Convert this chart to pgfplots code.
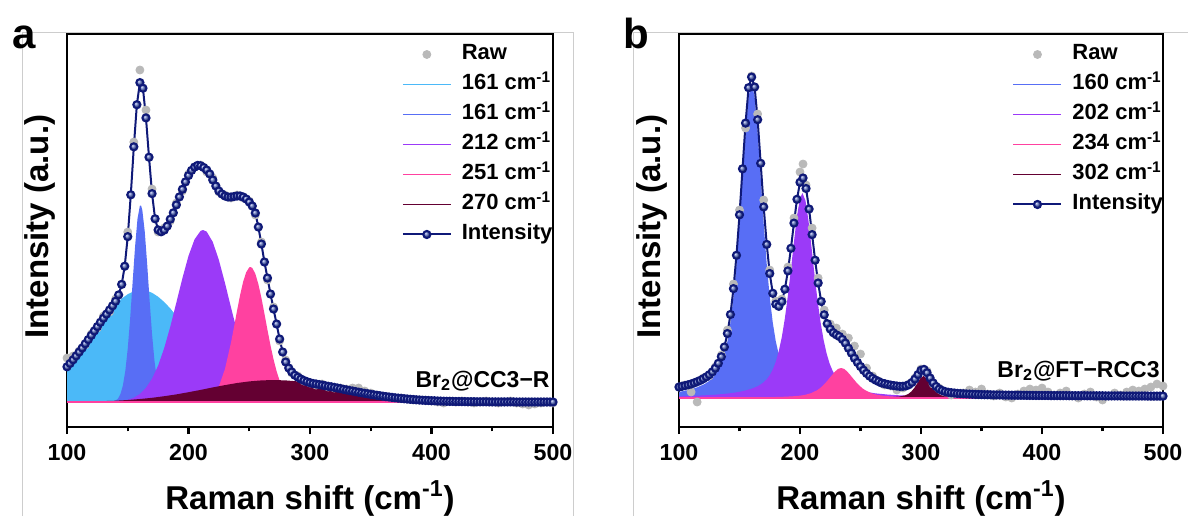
\documentclass[border=0pt]{standalone}
\usepackage{pgfplots}
\pgfplotsset{compat=1.18}
\usepackage{fontspec}
\setmainfont{Liberation Sans}
\definecolor{lb}{RGB}{75,185,248}
\definecolor{rb}{RGB}{88,110,245}
\definecolor{pu}{RGB}{155,58,248}
\definecolor{pk}{RGB}{255,65,160}
\definecolor{mr}{RGB}{100,0,50}
\definecolor{navy}{RGB}{15,25,120}
\definecolor{mk}{RGB}{85,105,190}
\definecolor{rawg}{RGB}{185,185,185}
\definecolor{framec}{RGB}{205,205,205}
\pgfplotsset{
  panel/.style={
    scale only axis, height=196.5pt,
    xmin=100, xmax=500,
    xtick={100,200,300,400,500}, minor xtick={150,250,350,450},
    ytick=\empty, xtick pos=left, tick align=outside,
    major tick length=3.5pt, minor tick length=2.2pt,
    every tick/.style={black, line width=1.1pt},
    axis line style={line width=1.2pt},
    tick label style={font=\fontsize{11.6}{13}\selectfont\bfseries},
    /pgf/number format/assume math mode=true,
    xticklabel style={anchor=base, yshift=-13pt},
    xlabel={Raman shift (cm\textsuperscript{-1})},
    ylabel={Intensity (a.u.)},
    label style={font=\fontsize{16.5}{18}\selectfont\bfseries},
    xlabel style={at={(axis description cs:0.5,0)}, anchor=base, yshift=-41pt},
    ylabel style={at={(axis description cs:-0.0556,0.51)}, anchor=center},
    legend cell align=left,
    legend image code/.code={\draw[mark repeat=2,mark phase=2,##1] plot coordinates {(0pt,0pt)(12pt,0pt)(24pt,0pt)};},
    legend style={draw=none, fill=none, at={(0.689,0.9746)}, anchor=north west,
      inner sep=0pt, outer sep=0pt, row sep=4.5pt,
      font=\fontsize{11}{12}\selectfont\bfseries,
      nodes={inner sep=0pt, text height=8pt, text depth=2.5pt},
      /tikz/every odd column/.style={column sep=5pt}},
    env/.style={navy, line width=1pt, mark=ball, mark size=1.8pt, mark options={ball color=mk}},
  }
}
\begin{document}
\begin{tikzpicture}
\useasboundingbox (0,0) rectangle (594pt,258pt);
\draw[framec, line width=0.5pt] (11pt,0) -- (11pt,242pt) -- (286.5pt,242pt) -- (286.5pt,0);
\draw[framec, line width=0.5pt] (316.5pt,0) -- (316.5pt,242pt) -- (594pt,242pt);
\node[anchor=base west, font=\fontsize{21}{24}\selectfont\bfseries, inner sep=0pt] at (6pt,234pt) {a};
\node[anchor=base west, font=\fontsize{21}{24}\selectfont\bfseries, inner sep=0pt] at (311.5pt,234pt) {b};

% ---------------- panel a ----------------
\begin{axis}[panel, at={(33.5pt,44.5pt)}, anchor=south west, width=243pt, ymin=-25, ymax=368]
\addlegendimage{only marks, mark=*, mark size=2pt, rawg}
\addlegendentry{Raw}
\addlegendimage{lb, line width=0.6pt}
\addlegendentry{161 cm\textsuperscript{-1}}
\addlegendimage{rb, line width=0.6pt}
\addlegendentry{161 cm\textsuperscript{-1}}
\addlegendimage{pu, line width=0.6pt}
\addlegendentry{212 cm\textsuperscript{-1}}
\addlegendimage{pk, line width=0.6pt}
\addlegendentry{251 cm\textsuperscript{-1}}
\addlegendimage{mr, line width=0.6pt}
\addlegendentry{270 cm\textsuperscript{-1}}
\addlegendimage{env}
\addlegendentry{Intensity}

\addplot[fill=lb, draw=none, forget plot] coordinates {(100,35.0)(105,42.0)(110,49.7)(115,57.8)(120,66.2)(125,74.7)(130,82.9)(135,90.7)(140,97.6)(145,103.4)(150,107.8)(155,110.7)(160,112.0)(165,111.4)(170,109.2)(175,105.3)(180,100.0)(185,93.6)(190,86.1)(195,78.1)(200,69.6)(205,61.2)(210,52.9)(215,45.0)(220,37.7)(225,31.1)(230,25.3)(235,20.2)(240,15.9)(245,12.4)(250,9.4)(255,7.1)(260,5.2)(265,3.8)(270,2.7)(275,1.9)(280,1.3)(290,0.6)(300,0.3)(320,0)} \closedcycle;
\addplot[fill=rb, draw=none, forget plot] coordinates {(136,0)(138,0.5)(140,1.4)(142,3.4)(144,7.9)(146,16.4)(148,31.0)(150,53.4)(152,83.8)(154,119.5)(156,155.0)(158,183.0)(160,196.4)(161,196.4)(162,191.8)(164,170.4)(166,137.7)(168,101.3)(170,67.7)(172,41.2)(174,22.8)(176,11.5)(178,5.3)(180,2.2)(182,0.8)(184,0.3)(186,0)} \closedcycle;
\addplot[fill=pu, draw=none, forget plot] coordinates {(130,0.1)(135,0.2)(140,0.5)(145,1.1)(150,2.2)(155,4.3)(160,8.0)(165,14.1)(170,23.3)(175,36.4)(180,53.9)(185,75.3)(190,99.4)(195,123.9)(200,146.1)(205,162.7)(210,171.2)(212,172)(215,170.3)(220,160.0)(225,142.0)(230,119.1)(235,94.4)(240,70.7)(245,50.0)(250,33.5)(255,21.2)(260,12.6)(265,7.1)(270,3.8)(275,1.9)(280,0.9)(285,0.4)(290,0.2)(300,0)} \closedcycle;
\addplot[fill=pk, draw=none, forget plot] coordinates {(205,0.2)(210,0.6)(215,2.1)(220,6.2)(225,15.5)(230,33.0)(235,59.5)(237.5,75.3)(240,91.6)(242.5,107.1)(245,120.3)(247.5,129.8)(250,134.6)(251,135)(252.5,134.0)(255,128.3)(257.5,117.9)(260,104.2)(262.5,88.4)(265,72.1)(267.5,56.5)(270,42.6)(272.5,30.8)(275,21.4)(277.5,14.3)(280,9.1)(285,3.3)(290,1.0)(295,0.3)(300,0)} \closedcycle;
\addplot[fill=mr, draw=none, forget plot] coordinates {(100,0.2)(110,0.3)(120,0.5)(130,0.9)(140,1.3)(150,2.0)(160,3.0)(170,4.2)(180,5.8)(190,7.6)(200,9.8)(210,12.1)(220,14.6)(230,16.9)(240,19.0)(250,20.6)(260,21.6)(270,22.0)(280,21.6)(290,20.6)(300,19.0)(310,16.9)(320,14.6)(330,12.1)(340,9.8)(350,7.6)(360,5.8)(370,4.2)(380,3.0)(390,2.0)(400,1.3)(410,0.9)(420,0.5)(430,0.3)(440,0.2)(450,0.1)(470,0)} \closedcycle;
\addplot[pk, line width=0.6pt, forget plot] coordinates {(100,0)(500,0)};

\addplot[only marks, mark=*, mark size=2pt, rawg, forget plot] coordinates {(100,44)(105,46)(110,51)(115,57)(120,68)(125,74)(130,86)(135,90)(140,103)(145,118)(150,170)(155,260)(160,332)(165,292)(170,213)(175,170)(180,174)(185,181)(190,199)(195,211)(200,228)(205,235)(210,237)(215,230)(220,224)(225,210)(230,207)(235,204)(240,207)(245,204)(250,201)(255,187)(260,160)(265,122)(270,95)(275,61)(280,42)(285,29)(290,26)(295,21)(300,19)(305,17)(310,18)(315,15)(320,14)(325,14)(330,13)(335,14)(340,14)(345,11)(350,9)(355,7)(360,6)(365,5)(370,4)(375,4)(380,3)(385,2)(390,2)(395,2)(400,1)(405,0)(410,-1)(415,1)(420,0)(425,1)(430,0)(435,-1)(440,0)(445,1)(450,0)(455,-1)(460,0)(465,1)(470,-1)(475,-2)(480,-3)(485,-2)(490,-1)(495,0)(500,-1)};

\addplot[env, forget plot] coordinates {(100,35.2)(102.5,38.6)(105,42.2)(107.5,46.1)(110,50.0)(112.5,54.0)(115,58.2)(117.5,62.4)(120,66.7)(122.5,71.1)(125,75.4)(127.5,79.7)(130,83.8)(132.5,87.9)(135,92.0)(137.5,96.2)(140,100.8)(142.5,107.1)(145,117.6)(147.5,135.8)(150,165.4)(152.5,207.2)(155,255.2)(157.5,297.3)(160,319.4)(162.5,313.8)(165,284.1)(167.5,244.8)(170,208.4)(172.5,183.2)(175,172.1)(177.5,170.2)(180,171.9)(182.5,175.9)(185,182.8)(187.5,189.2)(190,197.1)(192.5,205.1)(195,212.7)(197.5,220.1)(200,226.5)(202.5,231.6)(205,234.9)(207.5,236.6)(210,236.2)(212.5,234.5)(215,232.0)(217.5,228.0)(220,222.0)(222.5,216.0)(225,211.0)(227.5,208.0)(230,206.0)(232.5,205.0)(235,205.0)(237.5,205.5)(240,206.0)(242.5,206.0)(245,205.0)(247.5,203.0)(250,200.0)(252.5,196.0)(255,189.0)(257.5,175.0)(260,158.0)(262.5,140.0)(265,124.0)(267.5,108.0)(270,93.0)(272.5,78.0)(275,63.0)(277.5,50.0)(280,40.0)(282.5,34.0)(285,30.0)(287.5,26.8)(290,24.8)(292.5,23.0)(295,21.5)(297.5,20.3)(300,19.3)(302.5,18.5)(305,18.0)(307.5,17.4)(310,16.9)(312.5,16.3)(315,15.7)(317.5,15.2)(320,14.6)(322.5,14.0)(325,13.4)(327.5,12.7)(330,12.1)(332.5,11.5)(335,11.0)(337.5,10.4)(340,9.8)(342.5,9.2)(345,8.7)(347.5,8.2)(350,7.6)(352.5,7.2)(355,6.7)(357.5,6.3)(360,5.8)(362.5,5.4)(365,5.0)(367.5,4.6)(370,4.2)(372.5,3.9)(375,3.6)(377.5,3.3)(380,3.0)(382.5,2.7)(385,2.5)(387.5,2.2)(390,2.0)(392.5,1.8)(395,1.6)(397.5,1.5)(400,1.3)(402.5,1.2)(405,1.0)(407.5,0.9)(410,0.8)(412.5,0.7)(415,0.6)(417.5,0.6)(420,0.5)(422.5,0.5)(425,0.4)(427.5,0.4)(430,0.3)(432.5,0.3)(435,0.3)(437.5,0.2)(440,0.2)(442.5,0.2)(445,0.2)(447.5,0.1)(450,0.1)(452.5,0.1)(455,0.1)(457.5,0.1)(460,0.1)(462.5,0.1)(465,0.1)(467.5,0.1)(470,0.0)(472.5,0.0)(475,0.0)(477.5,0.0)(480,0.0)(482.5,0.0)(485,0.0)(487.5,0.0)(490,0.0)(492.5,0.0)(495,0.0)(497.5,0.0)(500,0.0)};

\node[anchor=base east, inner sep=0pt, font=\fontsize{11.5}{13}\selectfont\bfseries] at (axis cs:497.5,15) {Br\textsubscript{2}@CC3−R};
\end{axis}

% ---------------- panel b ----------------
\begin{axis}[panel, at={(339.5pt,44.5pt)}, anchor=south west, width=242pt, ymin=-29, ymax=364]
\addlegendimage{only marks, mark=*, mark size=2pt, rawg}
\addlegendentry{Raw}
\addlegendimage{rb, line width=0.6pt}
\addlegendentry{160 cm\textsuperscript{-1}}
\addlegendimage{pu, line width=0.6pt}
\addlegendentry{202 cm\textsuperscript{-1}}
\addlegendimage{pk, line width=0.6pt}
\addlegendentry{234 cm\textsuperscript{-1}}
\addlegendimage{mr, line width=0.6pt}
\addlegendentry{302 cm\textsuperscript{-1}}
\addlegendimage{env}
\addlegendentry{Intensity}

\addplot[fill=rb, draw=none, forget plot] coordinates {(100,6.1)(105,7.3)(110,8.7)(115,10.7)(120,13.3)(122.5,15.0)(125,17.1)(127.5,19.7)(130,23.1)(132.5,27.7)(135,34.1)(137.5,43.4)(140,56.6)(142.5,75.3)(145,100.8)(147.5,134.0)(150,174.5)(152.5,220.3)(155,265.8)(157.5,301.3)(160,315)(162.5,301.3)(165,265.8)(167.5,220.3)(170,174.5)(172.5,134.0)(175,100.8)(177.5,75.3)(180,56.6)(182.5,43.4)(185,34.1)(187.5,27.7)(190,23.1)(192.5,19.7)(195,17.1)(197.5,15.0)(200,13.3)(205,10.7)(210,8.7)(215,7.3)(220,6.1)(230,4.55)(240,3.51)(250,2.78)(260,2.26)(280,1.57)(300,1.16)(350,0.6)(400,0.4)(500,0.2)} \closedcycle;
\addplot[fill=pu, draw=none, forget plot] coordinates {(100,1.65)(110,2.05)(120,2.6)(130,3.3)(140,4.45)(145,5.2)(150,6.2)(155,7.55)(160,9.3)(165,11.8)(167.5,13.6)(170,15.8)(172.5,18.7)(175,22.8)(177.5,28.4)(180,36.2)(182.5,47.2)(185,61.1)(187.5,79.8)(190,102.6)(192.5,128.5)(195,156.2)(197.5,182.0)(200,199.5)(202,205)(204.5,197.5)(207,177.5)(209.5,151.0)(212,123.3)(214.5,97.7)(217,75.7)(219.5,58.1)(222,44.5)(224.5,34.4)(227,27.1)(229.5,21.8)(232,18.0)(234.5,15.3)(237,13.2)(242,10.2)(247,8.2)(252,6.7)(262,4.7)(272,3.5)(282,2.7)(302,1.7)(322,1.2)(352,0.78)(402,0.44)(500,0.2)} \closedcycle;
\addplot[fill=pk, draw=none, forget plot] coordinates {(150,0.45)(170,0.8)(184,1.1)(194,1.7)(199,2.2)(204,3.1)(209,4.8)(214,7.7)(216.5,9.8)(219,12.5)(221.5,15.7)(224,19.3)(226.5,23.0)(229,26.5)(231.5,29.1)(234,30)(236.5,29.1)(239,26.5)(241.5,23.0)(244,19.3)(246.5,15.7)(249,12.5)(251.5,9.8)(254,7.7)(259,4.8)(264,3.1)(269,2.2)(274,1.7)(284,1.1)(294,0.8)(314,0.5)(334,0.3)(400,0.15)(500,0.1)} \closedcycle;
\addplot[fill=mr, draw=none, forget plot] coordinates {(240,0.2)(262,0.4)(272,0.7)(277,1.0)(282,1.5)(287,2.7)(289.5,4.1)(292,6.5)(294.5,10.1)(297,14.9)(299.5,19.8)(302,22)(304.5,19.8)(307,14.9)(309.5,10.1)(312,6.5)(314.5,4.1)(317,2.7)(322,1.5)(327,1.0)(332,0.7)(342,0.4)(362,0.2)(400,0.1)} \closedcycle;
\addplot[pk, line width=0.6pt, forget plot] coordinates {(100,0)(500,0)};

\addplot[only marks, mark=*, mark size=2pt, rawg, forget plot] coordinates {(100,11)(105,13)(110,6)(115,-4)(120,20)(125,22)(130,31)(135,43)(140,68)(145,114)(150,188)(155,270)(160,322)(165,284)(170,198)(175,128)(180,97)(185,99)(190,131)(195,180)(200,226)(202.5,234)(205,213)(210,170)(215,120)(220,88)(225,74)(230,70)(235,64)(240,60)(245,52)(250,44)(255,30)(260,22)(265,17)(270,13)(275,12)(280,8)(285,10)(290,14)(295,20)(300,29)(305,27)(310,14)(315,10)(320,6)(325,3)(330,4)(335,5)(340,8)(345,6)(350,9)(355,4)(360,2)(365,5)(370,1)(375,0)(380,4)(385,7)(390,9)(395,8)(400,10)(405,6)(410,3)(415,5)(420,7)(425,2)(430,0)(435,4)(440,6)(445,1)(450,-2)(455,2)(460,5)(465,3)(470,6)(475,8)(480,7)(485,9)(490,11)(495,14)(500,12)};

\addplot[env, forget plot] coordinates {(100,11.0)(102.5,11.7)(105,12.4)(107.5,13.2)(110,14.0)(112.5,15.1)(115,16.3)(117.5,17.6)(120,19.2)(122.5,21.1)(125,23.3)(127.5,26.1)(130,29.8)(132.5,34.7)(135,41.3)(137.5,51.0)(140,64.5)(142.5,83.5)(145,109.4)(147.5,142.7)(150,183.2)(152.5,229.2)(155,274.9)(157.5,310.3)(160,320.9)(162.5,311.0)(165,278.3)(167.5,234.7)(170,191.1)(172.5,153.6)(175,124.5)(177.5,104.7)(180,93.8)(182.5,91.7)(185,96.4)(187.5,108.8)(190,127.1)(192.5,149.7)(195,174.9)(197.5,198.7)(200,215.7)(202.5,220.0)(205,209.5)(207.5,189.0)(210,163.4)(212.5,137.8)(215,115.0)(217.5,96.6)(220,83.2)(222.5,74.3)(225,69.0)(227.5,65.3)(230,63.2)(232.5,61.5)(235,58.7)(237.5,54.9)(240,49.8)(242.5,44.9)(245,39.8)(247.5,35.5)(250,31.5)(252.5,27.8)(255,24.6)(257.5,21.9)(260,19.7)(262.5,17.9)(265,16.4)(267.5,15.0)(270,14.3)(272.5,13.5)(275,12.9)(277.5,12.4)(280,12.0)(282.5,11.6)(285,11.7)(287.5,12.1)(290,13.3)(292.5,15.5)(295,18.9)(297.5,23.4)(300,27.7)(302.5,28.6)(305,25.2)(307.5,20.0)(310,15.1)(312.5,11.5)(315,9.0)(317.5,7.5)(320,6.4)(322.5,5.7)(325,5.3)(327.5,5.0)(330,4.6)(332.5,4.4)(335,4.2)(337.5,4.05)(340,3.9)(342.5,3.75)(345,3.6)(347.5,3.5)(350,3.4)(352.5,3.3)(355,3.25)(357.5,3.2)(360,3.1)(362.5,3.05)(365,3.0)(367.5,2.95)(370,2.9)(372.5,2.85)(375,2.8)(377.5,2.78)(380,2.75)(382.5,2.72)(385,2.7)(387.5,2.65)(390,2.6)(392.5,2.58)(395,2.55)(397.5,2.52)(400,2.5)(402.5,2.5)(405,2.5)(407.5,2.4)(410,2.4)(412.5,2.4)(415,2.4)(417.5,2.4)(420,2.4)(422.5,2.3)(425,2.3)(427.5,2.3)(430,2.3)(432.5,2.3)(435,2.3)(437.5,2.2)(440,2.2)(442.5,2.2)(445,2.2)(447.5,2.2)(450,2.2)(452.5,2.1)(455,2.1)(457.5,2.1)(460,2.1)(462.5,2.1)(465,2.1)(467.5,2.0)(470,2.0)(472.5,2.0)(475,2.0)(477.5,2.0)(480,2.0)(482.5,2.0)(485,2.0)(487.5,1.9)(490,1.9)(492.5,1.9)(495,1.9)(497.5,1.9)(500,1.9)};

\node[anchor=base east, inner sep=0pt, font=\fontsize{11.5}{13}\selectfont\bfseries] at (axis cs:497.5,21) {Br\textsubscript{2}@FT−RCC3};
\end{axis}
\end{tikzpicture}
\end{document}
